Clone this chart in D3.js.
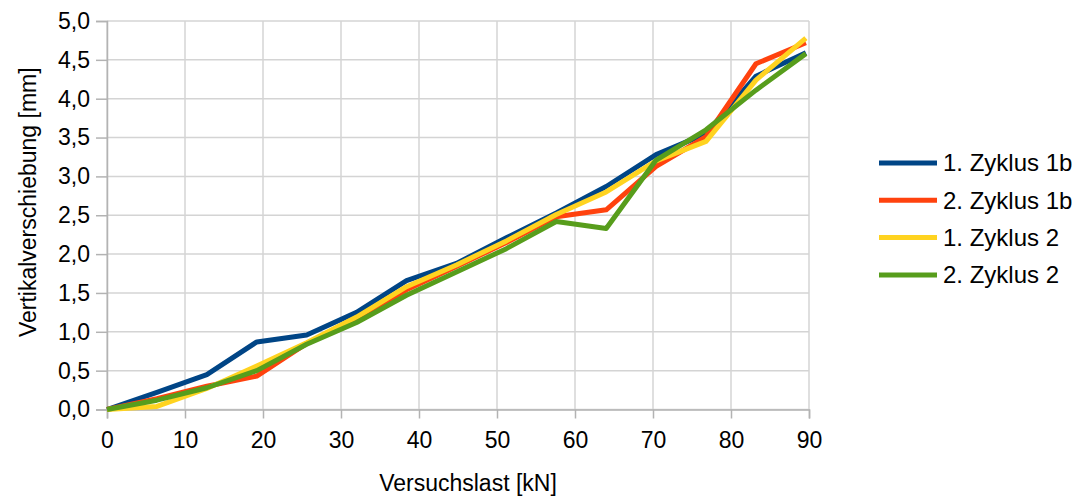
<!DOCTYPE html>
<html>
<head>
<meta charset="utf-8">
<script src="https://cdn.jsdelivr.net/npm/d3@7"></script>
<style>
  html, body { margin: 0; padding: 0; background: #fff; }
  svg text { font-family: "Liberation Sans", Arial, sans-serif; fill: #000; }
</style>
</head>
<body>
<svg id="chart" width="1084" height="502"></svg>
<script>
// Load steps [kN]
const last = [0, 6.4, 12.8, 19.2, 25.6, 32, 38.4, 44.8, 51.2, 57.6, 64, 70.4, 76.8, 83.2, 89.6];

// Vertical displacement [mm] per load cycle
const zyklus1_1b = [0, 0.22, 0.45, 0.87, 0.96, 1.25, 1.66, 1.88, 2.21, 2.53, 2.87, 3.28, 3.55, 4.29, 4.59];
const zyklus2_1b = [0, 0.14, 0.30, 0.43, 0.85, 1.16, 1.54, 1.84, 2.15, 2.48, 2.57, 3.13, 3.51, 4.45, 4.72];
const zyklus1_2  = [0, 0.04, 0.27, 0.56, 0.86, 1.19, 1.58, 1.86, 2.17, 2.51, 2.80, 3.20, 3.45, 4.24, 4.78];
const zyklus2_2  = [0, 0.12, 0.28, 0.50, 0.84, 1.12, 1.47, 1.77, 2.07, 2.42, 2.33, 3.21, 3.60, 4.11, 4.58];

const seriesNames  = ["1. Zyklus 1b", "2. Zyklus 1b", "1. Zyklus 2", "2. Zyklus 2"];
const seriesColors = ["#004586", "#ff420e", "#ffd320", "#579d1c"];
const seriesValues = [zyklus1_1b, zyklus2_1b, zyklus1_2, zyklus2_2];

const xTicks = [0, 10, 20, 30, 40, 50, 60, 70, 80, 90];
const yTicks = [0, 0.5, 1, 1.5, 2, 2.5, 3, 3.5, 4, 4.5, 5];

const svg = d3.select("#chart");
const plot = { left: 107, right: 809, top: 21, bottom: 409.5 };

const x = d3.scaleLinear().domain([0, 90]).range([plot.left, plot.right]);
const y = d3.scaleLinear().domain([0, 5]).range([plot.bottom, plot.top]);
const comma = v => d3.format(".1f")(v).replace(".", ",");

// Grid
const grid = svg.append("g");
grid.selectAll("line.h").data(yTicks).join("line")
  .attr("x1", plot.left).attr("x2", plot.right)
  .attr("y1", d => y(d)).attr("y2", d => y(d))
  .attr("stroke", "#d4d4d4").attr("stroke-width", 1.5);
grid.selectAll("line.v").data(xTicks).join("line")
  .attr("x1", d => x(d)).attr("x2", d => x(d))
  .attr("y1", plot.top).attr("y2", plot.bottom)
  .attr("stroke", "#d4d4d4").attr("stroke-width", 1.5);

// Axes
const yAxis = svg.append("g").attr("transform", `translate(${plot.left},0)`)
  .call(d3.axisLeft(y).tickValues(yTicks).tickFormat(comma).tickSize(11).tickPadding(6));
const xAxis = svg.append("g").attr("transform", `translate(0,${plot.bottom})`)
  .call(d3.axisBottom(x).tickValues(xTicks).tickFormat(d3.format("d")).tickSize(9).tickPadding(13));
[yAxis, xAxis].forEach(a => {
  a.select(".domain").attr("stroke", "#b3b3b3").attr("stroke-width", 1.5);
  a.selectAll(".tick line").attr("stroke", "#b3b3b3").attr("stroke-width", 1.5);
  a.selectAll(".tick text").style("font-size", "23px").style("font-family", '"Liberation Sans", Arial, sans-serif').attr("fill", "#000");
});

// Series lines
const line = d3.line().x((d, i) => x(last[i])).y(d => y(d));
svg.append("g").selectAll("path").data(seriesValues).join("path")
  .attr("d", d => line(d))
  .attr("fill", "none")
  .attr("stroke", (d, i) => seriesColors[i])
  .attr("stroke-width", 5)
  .attr("stroke-linejoin", "round");

// Axis titles
svg.append("text")
  .attr("x", 468).attr("y", 491)
  .attr("text-anchor", "middle").style("font-size", "23px")
  .text("Versuchslast [kN]");
svg.append("text")
  .attr("transform", `translate(36,${(plot.top + plot.bottom) / 2 - 13}) rotate(-90)`)
  .attr("text-anchor", "middle").style("font-size", "23px")
  .text("Vertikalverschiebung [mm]");

// Legend
const legend = svg.append("g");
seriesNames.forEach((name, i) => {
  const ly = 163 + i * 37.3;
  legend.append("line")
    .attr("x1", 879).attr("x2", 937).attr("y1", ly).attr("y2", ly)
    .attr("stroke", seriesColors[i]).attr("stroke-width", 5);
  legend.append("text")
    .attr("x", 943).attr("y", ly).attr("dy", "0.35em")
    .style("font-size", "24px")
    .text(name);
});
</script>
</body>
</html>
